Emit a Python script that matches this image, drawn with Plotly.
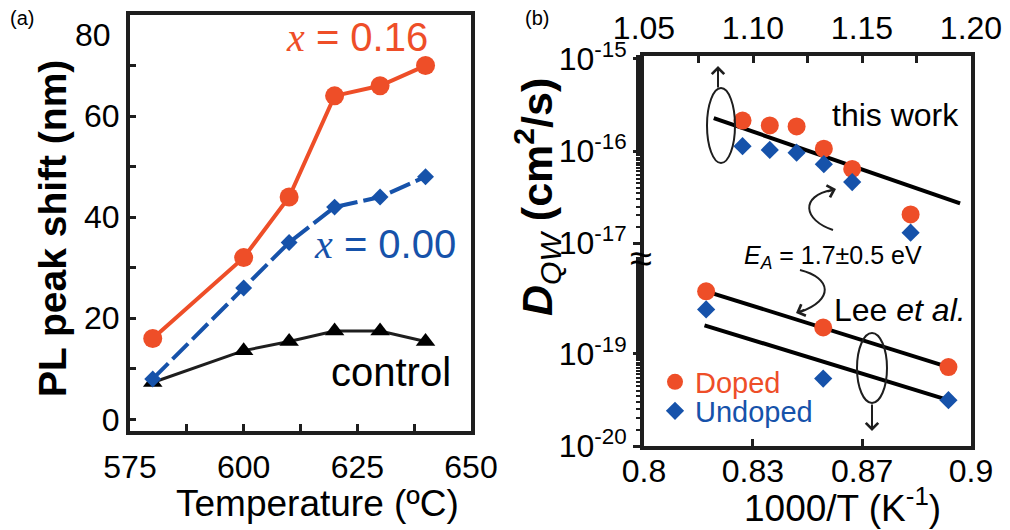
import plotly.graph_objects as go

W, H = 1010, 530
def px(x): return x / W
def py(y): return 1 - y / H

FONT = "Liberation Sans, Arial, sans-serif"
RED = "#EE4E28"
BLUE = "#1652AA"
INK = "#1e1e1e"

# ---------------- Panel (a) data ----------------
temp_c = [580, 600, 610, 620, 630, 640]
shift_x016 = [16, 32, 44, 64, 66, 70]
shift_x000 = [8, 26, 35, 42, 44, 48]
shift_control = [7.3, 13.6, 15.4, 17.5, 17.5, 15.4]
temp_ticks = [575, 587.5, 600, 612.5, 625, 637.5, 650]
temp_ticktext = ["575", "", "600", "", "625", "", "650"]
shift_ticks = [0, 10, 20, 30, 40, 50, 60, 70]
shift_ticktext = ["0", "", "20", "", "40", "", "60", ""]

# ---------------- Panel (b) data ----------------
this_work_invT = [1.0952, 1.1077, 1.1200, 1.1325, 1.1455, 1.1723]
this_work_doped = [2.14e-16, 1.9e-16, 1.85e-16, 1.06e-16, 6.4e-17, 2.05e-17]
this_work_undoped = [1.13e-16, 1.03e-16, 9.6e-17, 7.2e-17, 4.6e-17, 1.3e-17]
this_work_fit_x = [1.082, 1.195]
this_work_fit_y = [2.28e-16, 2.71e-17]

lee_invT = [0.819, 0.8548, 0.8931]
lee_doped = [4.8e-19, 1.94e-19, 7.2e-20]
lee_undoped = [3.05e-19, 5.4e-20, 3.15e-20]
lee_fit_doped_x = [0.819, 0.8931]
lee_fit_doped_y = [4.8e-19, 7.2e-20]
lee_fit_undoped_x = [0.8185, 0.8931]
lee_fit_undoped_y = [2.05e-19, 3.15e-20]

top_ticks = [1.05, 1.075, 1.10, 1.125, 1.15, 1.175, 1.20]
top_ticktext = ["1.05", "", "1.10", "", "1.15", "", "1.20"]
bot_ticks = [0.8, 0.8333, 0.8667, 0.9]
bot_ticktext = ["0.8", "0.83", "0.87", "0.9"]
upper_dec = [1e-15, 1e-16, 1e-17]
upper_dec_text = ["10<sup>-15</sup>", "10<sup>-16</sup>", "10<sup>-17</sup>"]
lower_dec = [1e-19, 1e-20]
lower_dec_text = ["10<sup>-19</sup>", "10<sup>-20</sup>"]

fig = go.Figure()

# Panel (a) traces
fig.add_trace(go.Scatter(x=temp_c, y=shift_control, mode="lines+markers",
                         line=dict(color=INK, width=3),
                         marker=dict(symbol="triangle-up", size=17, color="black"),
                         xaxis="x", yaxis="y", showlegend=False))
fig.add_trace(go.Scatter(x=temp_c, y=shift_x000, mode="lines+markers",
                         line=dict(color=BLUE, width=4, dash="22px,6px"),
                         marker=dict(symbol="diamond", size=13, color=BLUE),
                         xaxis="x", yaxis="y", showlegend=False))
fig.add_trace(go.Scatter(x=temp_c, y=shift_x016, mode="lines+markers",
                         line=dict(color=RED, width=4),
                         marker=dict(symbol="circle", size=19, color=RED),
                         xaxis="x", yaxis="y", showlegend=False))

# Panel (b) upper: this work (top axis)
fig.add_trace(go.Scatter(x=this_work_fit_x, y=this_work_fit_y, mode="lines",
                         line=dict(color="black", width=4),
                         xaxis="x3", yaxis="y3", showlegend=False))
fig.add_trace(go.Scatter(x=this_work_invT, y=this_work_doped, mode="markers",
                         marker=dict(symbol="circle", size=18, color=RED),
                         xaxis="x3", yaxis="y3", showlegend=False))
fig.add_trace(go.Scatter(x=this_work_invT, y=this_work_undoped, mode="markers",
                         marker=dict(symbol="diamond", size=14, color=BLUE),
                         xaxis="x3", yaxis="y3", showlegend=False))

# Panel (b) lower: Lee et al. (bottom axis)
fig.add_trace(go.Scatter(x=lee_fit_doped_x, y=lee_fit_doped_y, mode="lines",
                         line=dict(color="black", width=4),
                         xaxis="x4", yaxis="y4", showlegend=False))
fig.add_trace(go.Scatter(x=lee_fit_undoped_x, y=lee_fit_undoped_y, mode="lines",
                         line=dict(color="black", width=4),
                         xaxis="x4", yaxis="y4", showlegend=False))
fig.add_trace(go.Scatter(x=lee_invT, y=lee_doped, mode="markers", name="Doped",
                         marker=dict(symbol="circle", size=18, color=RED),
                         xaxis="x4", yaxis="y4", showlegend=True, legend="legend"))
fig.add_trace(go.Scatter(x=lee_invT, y=lee_undoped, mode="markers", name="Undoped",
                         marker=dict(symbol="diamond", size=14, color=BLUE),
                         xaxis="x4", yaxis="y4", showlegend=True, legend="legend2"))

axis_common = dict(showgrid=False, zeroline=False, showline=True, linecolor=INK,
                   linewidth=4, tickcolor=INK, tickwidth=3, automargin=False,
                   tickfont=dict(family=FONT, size=32, color="black"))

fig.update_layout(
    width=W, height=H, margin=dict(l=0, r=0, t=0, b=0, autoexpand=False),
    paper_bgcolor="white", plot_bgcolor="white",
    font=dict(family=FONT, color="black"),
    xaxis=dict(**axis_common, domain=[px(130), px(471)], range=[575, 650],
               tickmode="array", tickvals=temp_ticks, ticktext=temp_ticktext,
               ticks="inside", ticklen=7, mirror=True, anchor="y", ticklabelstandoff=5),
    yaxis=dict(**axis_common, domain=[py(431), py(15)], range=[-2.3, 80],
               tickmode="array", tickvals=shift_ticks, ticktext=shift_ticktext,
               ticks="inside", ticklen=6, mirror=True, anchor="x"),
    xaxis3=dict(**axis_common, domain=[px(644), px(971)], range=[1.05, 1.20],
                tickmode="array", tickvals=top_ticks, ticktext=top_ticktext,
                ticks="inside", ticklen=7, side="top", anchor="y3", mirror=False),
    yaxis3=dict(**axis_common, domain=[py(258), py(56)], type="log",
                range=[-17.161, -14.968], tickmode="array",
                tickvals=upper_dec, ticktext=upper_dec_text,
                ticks="outside", ticklen=7, mirror=True, anchor="x3",
                minor=dict(ticks="outside", ticklen=4, tickwidth=2, tickcolor=INK)),
    xaxis4=dict(**axis_common, domain=[px(644), px(971)], range=[0.8, 0.9],
                tickmode="array", tickvals=bot_ticks, ticktext=bot_ticktext,
                ticks="inside", ticklen=7, side="bottom", anchor="y4", mirror=False,
                ticklabelstandoff=-6),
    yaxis4=dict(**axis_common, domain=[py(446), py(258)], type="log",
                range=[-20, -17.957], tickmode="array",
                tickvals=lower_dec, ticktext=lower_dec_text,
                ticks="outside", ticklen=7, mirror=True, anchor="x4",
                minor=dict(ticks="outside", ticklen=4, tickwidth=2, tickcolor=INK)),
    legend=dict(x=px(655), y=py(382), xanchor="left", yanchor="middle",
                font=dict(family=FONT, size=29, color=RED), bgcolor="rgba(0,0,0,0)",
                itemsizing="trace"),
    legend2=dict(x=px(655), y=py(411), xanchor="left", yanchor="middle",
                 font=dict(family=FONT, size=29, color=BLUE), bgcolor="rgba(0,0,0,0)",
                 itemsizing="trace"),
)

ann = []
def text(x, y, t, size, color="black", **kw):
    ann.append(dict(x=px(x), y=py(y), xref="paper", yref="paper", text=t, showarrow=False,
                    xanchor="center", yanchor="middle",
                    font=dict(family=FONT, size=size, color=color), **kw))

# axis titles
text(317, 503, "Temperature (ºC)", 37)
text(52, 229, "<b>PL peak shift (nm)</b>", 39, textangle=-90)
text(842, 505, "1000/T (K<sup>-1</sup>)", 37)
text(537, 197, "<b><i>D</i></b><sub><i>QW</i></sub><b> (cm<sup>2</sup>/s)</b>", 43, textangle=-90)

text(22, 18, "(a)", 20)
text(537, 18, "(b)", 20)
ann.append(dict(x=px(113), y=80, xref="paper", yref="y", text="80", showarrow=False,
                xanchor="right", yanchor="middle", yshift=-20,
                font=dict(family=FONT, size=32, color="black")))
text(357, 38, "<i style='font-family:Liberation Serif'>x</i> = 0.16", 40, RED)
text(385, 244, "<i style='font-family:Liberation Serif'>x</i> = 0.00", 40, BLUE)
text(391, 372, "control", 40)
text(895, 115, "this work", 32)
text(833, 257, "<i>E</i><sub><i>A</i></sub> = 1.7±0.5 eV", 25)
text(900, 310, "Lee <i>et al.</i>", 32)
text(641, 258, "≈", 40)

def arrow(tipx, tipy, tailx, taily):
    ann.append(dict(x=px(tipx), y=py(tipy), xref="paper", yref="paper", text="",
                    showarrow=True, ax=tailx - tipx, ay=taily - tipy,
                    arrowhead=4, arrowsize=1.2, arrowwidth=2, arrowcolor=INK))

arrow(718, 66, 718, 89)
arrow(872, 431, 872, 403)
arrow(836, 189, 826, 192)
arrow(796, 313, 806, 309)

fig.update_layout(annotations=ann)

def path(pts):
    (x0, y0), (c1x, c1y), (c2x, c2y), (x1, y1) = pts
    return (f"M {px(x0)} {py(y0)} C {px(c1x)} {py(c1y)}, {px(c2x)} {py(c2y)}, "
            f"{px(x1)} {py(y1)}")

shapes = [
    dict(type="circle", xref="paper", yref="paper", x0=px(707), x1=px(735),
         y0=py(163), y1=py(88), line=dict(color=INK, width=2)),
    dict(type="circle", xref="paper", yref="paper", x0=px(857), x1=px(887),
         y0=py(403), y1=py(333), line=dict(color=INK, width=2)),
    dict(type="path", xref="paper", yref="paper",
         path=path([(833, 230), (803, 220), (800, 196), (832, 190)]),
         line=dict(color=INK, width=2)),
    dict(type="path", xref="paper", yref="paper",
         path=path([(800, 270), (832, 278), (834, 300), (800, 312)]),
         line=dict(color=INK, width=2)),
]
fig.update_layout(shapes=shapes)

fig.write_html("out.html")
